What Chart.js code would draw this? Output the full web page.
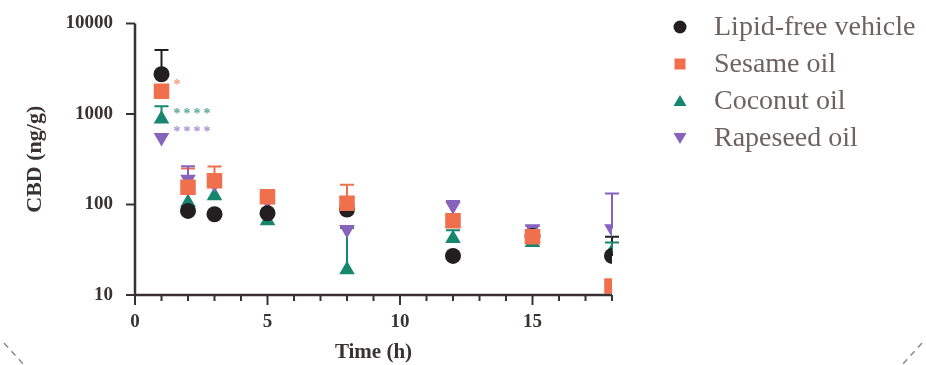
<!DOCTYPE html>
<html>
<head>
<meta charset="utf-8">
<script src="https://cdn.jsdelivr.net/npm/chart.js@4.4.1/dist/chart.umd.min.js"></script>
<style>
  html, body { margin: 0; padding: 0; background: #fff; }
  #wrap { width: 926px; height: 365px; position: relative; }
</style>
</head>
<body>
<div id="wrap"><canvas id="myChart" width="926" height="365"></canvas></div>
<script>
// time points (h)
const times = [1, 2, 3, 5, 8, 12, 15, 18];

// mean CBD (ng/g) per group
const lipidFree = [2750, 85, 78, 80, 88, 27, 45, 27];
const sesame = [1780, 155, 183, 122, 103, 66, 44, 12.6];
const coconut = [880, 105, 125, 66, 19, 42, 38, 30];
const rapeseed = [550, 190, 170, 110, 53, 97, 54, 54];

// upper error (SD), 0 = no bar visible
const lipidFreeSd = [2350, 0, 0, 0, 0, 0, 0, 17];
const sesameSd = [0, 95, 80, 0, 62, 0, 0, 0];
const coconutSd = [340, 0, 0, 0, 36, 10, 0, 8];
const rapeseedSd = [0, 75, 0, 0, 0, 12, 4, 78];

const groupNames = ['Lipid-free vehicle', 'Sesame oil', 'Coconut oil', 'Rapeseed oil'];
const groupColors = ['#231f20', '#f0704e', '#16866f', '#8663bd'];
// lower = drawn on top
const groupOrder = [1, 0, 3, 2];

const yTicks = [10, 100, 1000, 10000];
const xMajor = [0, 5, 10, 15];

// significance marks
const starText = ['*', '****', '****'];
const starX = [1.45, 1.45, 1.45];
const starY = [2240, 1080, 684];
const starColor = ['#f59a80', '#5aa898', '#a890d2'];

const axisColor = '#3a3232';
const serif = '"Liberation Serif", "DejaVu Serif", serif';

const toPoints = (arr) => arr.map((v, i) => ({ x: times[i], y: v }));

const datasets = [
    { label: groupNames[0], data: toPoints(lipidFree), sd: lipidFreeSd, pointStyle: 'circle', pointRadius: 8, rotation: 0 },
    { label: groupNames[1], data: toPoints(sesame), sd: sesameSd, pointStyle: 'rect', pointRadius: 11, rotation: 0 },
    { label: groupNames[2], data: toPoints(coconut), sd: coconutSd, pointStyle: 'triangle', pointRadius: 9, rotation: 0 },
    { label: groupNames[3], data: toPoints(rapeseed), sd: rapeseedSd, pointStyle: 'triangle', pointRadius: 9, rotation: 180 }
].map((d, i) => Object.assign(d, {
    backgroundColor: groupColors[i],
    borderColor: groupColors[i],
    borderWidth: 0,
    pointHoverRadius: d.pointRadius,
    showLine: false,
    order: groupOrder[i]
}));

// error bars, axis ticks, legend and decoration
const extras = {
    id: 'extras',
    beforeDatasetsDraw(chart) {
        const ctx = chart.ctx;
        const xs = chart.scales.x, ys = chart.scales.y;
        ctx.save();
        chart.data.datasets.forEach((ds) => {
            ctx.strokeStyle = ds.borderColor;
            ctx.lineWidth = 2;
            ds.data.forEach((p, i) => {
                const sd = ds.sd[i];
                if (!sd) return;
                const px = xs.getPixelForValue(p.x);
                const y0 = ys.getPixelForValue(p.y);
                const y1 = ys.getPixelForValue(p.y + sd);
                ctx.beginPath();
                ctx.moveTo(px, y0);
                ctx.lineTo(px, y1);
                ctx.moveTo(px - 7, y1);
                ctx.lineTo(px + 7, y1);
                ctx.stroke();
            });
        });
        ctx.restore();
    },
    afterDraw(chart) {
        const ctx = chart.ctx;
        const xs = chart.scales.x, ys = chart.scales.y;
        const area = chart.chartArea;
        ctx.save();
        ctx.strokeStyle = axisColor;
        ctx.lineWidth = 2.5;
        // axes
        ctx.beginPath();
        ctx.moveTo(area.left, area.top);
        ctx.lineTo(area.left, area.bottom);
        ctx.lineTo(area.right, area.bottom);
        ctx.stroke();
        // x ticks
        ctx.lineWidth = 2;
        for (let t = 0; t <= 18; t++) {
            const px = xs.getPixelForValue(t);
            const len = xMajor.includes(t) ? 10 : 6;
            ctx.beginPath();
            ctx.moveTo(px, area.bottom);
            ctx.lineTo(px, area.bottom + len);
            ctx.stroke();
        }
        // y ticks
        yTicks.forEach((v) => {
            const py = ys.getPixelForValue(v);
            ctx.beginPath();
            ctx.moveTo(area.left, py);
            ctx.lineTo(area.left - 9, py);
            ctx.stroke();
        });
        // stars
        ctx.font = 'bold 14px ' + serif;
        ctx.textBaseline = 'middle';
        ctx.textAlign = 'left';
        starText.forEach((s, i) => {
            ctx.fillStyle = starColor[i];
            const px = xs.getPixelForValue(starX[i]);
            const py = ys.getPixelForValue(starY[i]);
            let x = px;
            for (const ch of s) {
                ctx.fillText(ch, x, py + 3);
                x += 10;
            }
        });
        // legend
        ctx.font = '28px ' + serif;
        chart.data.datasets.forEach((ds, i) => {
            const y = 27 + i * 37;
            const x = 680;
            ctx.fillStyle = ds.backgroundColor;
            ctx.beginPath();
            if (ds.pointStyle === 'circle') {
                ctx.arc(x, y, 6.5, 0, Math.PI * 2);
            } else if (ds.pointStyle === 'rect') {
                ctx.rect(x - 5.5, y - 5.5, 11, 11);
            } else if (ds.rotation === 180) {
                ctx.moveTo(x - 6.5, y - 5);
                ctx.lineTo(x + 6.5, y - 5);
                ctx.lineTo(x, y + 6);
            } else {
                ctx.moveTo(x - 6.5, y + 5);
                ctx.lineTo(x + 6.5, y + 5);
                ctx.lineTo(x, y - 6);
            }
            ctx.fill();
            ctx.fillStyle = '#6e6262';
            ctx.fillText(ds.label, 714, y + 1);
        });
        // corner dashes
        ctx.strokeStyle = '#8a8a8a';
        ctx.lineWidth = 1.5;
        ctx.setLineDash([6, 5]);
        ctx.beginPath();
        ctx.moveTo(4, 343);
        ctx.lineTo(24, 365);
        ctx.moveTo(922, 343);
        ctx.lineTo(902, 365);
        ctx.stroke();
        ctx.restore();
    }
};

const chart = new Chart('myChart', {
    type: 'scatter',
    data: { datasets: datasets },
    options: {
        responsive: false,
        animation: false,
        layout: { autoPadding: false, padding: { left: 18, right: 314, top: 10, bottom: 0 } },
        plugins: {
            legend: { display: false },
            tooltip: { enabled: false }
        },
        scales: {
            x: {
                type: 'linear',
                min: 0,
                max: 18,
                border: { display: false },
                grid: { display: false },
                ticks: {
                    stepSize: 5,
                    padding: 8,
                    color: axisColor,
                    font: { family: serif, size: 19, weight: 'bold' },
                    callback: (v) => (xMajor.includes(v) ? v : '')
                },
                title: {
                    display: true,
                    text: 'Time (h)',
                    color: axisColor,
                    padding: { top: 0, bottom: 0 },
                    font: { family: serif, size: 21, weight: 'bold' }
                },
                afterFit: (s) => { s.height = 70; }
            },
            y: {
                type: 'logarithmic',
                min: 10,
                max: 10000,
                border: { display: false },
                grid: { display: false },
                afterBuildTicks: (s) => { s.ticks = yTicks.map((v) => ({ value: v })); },
                ticks: {
                    padding: 14,
                    color: axisColor,
                    font: { family: serif, size: 19, weight: 'bold', lineHeight: 1 },
                    callback: (v) => String(v)
                },
                title: {
                    display: true,
                    text: 'CBD (ng/g)',
                    color: axisColor,
                    font: { family: serif, size: 22, weight: 'bold' }
                },
                afterFit: (s) => { s.width = 117; }
            }
        }
    },
    plugins: [extras]
});
</script>
</body>
</html>
